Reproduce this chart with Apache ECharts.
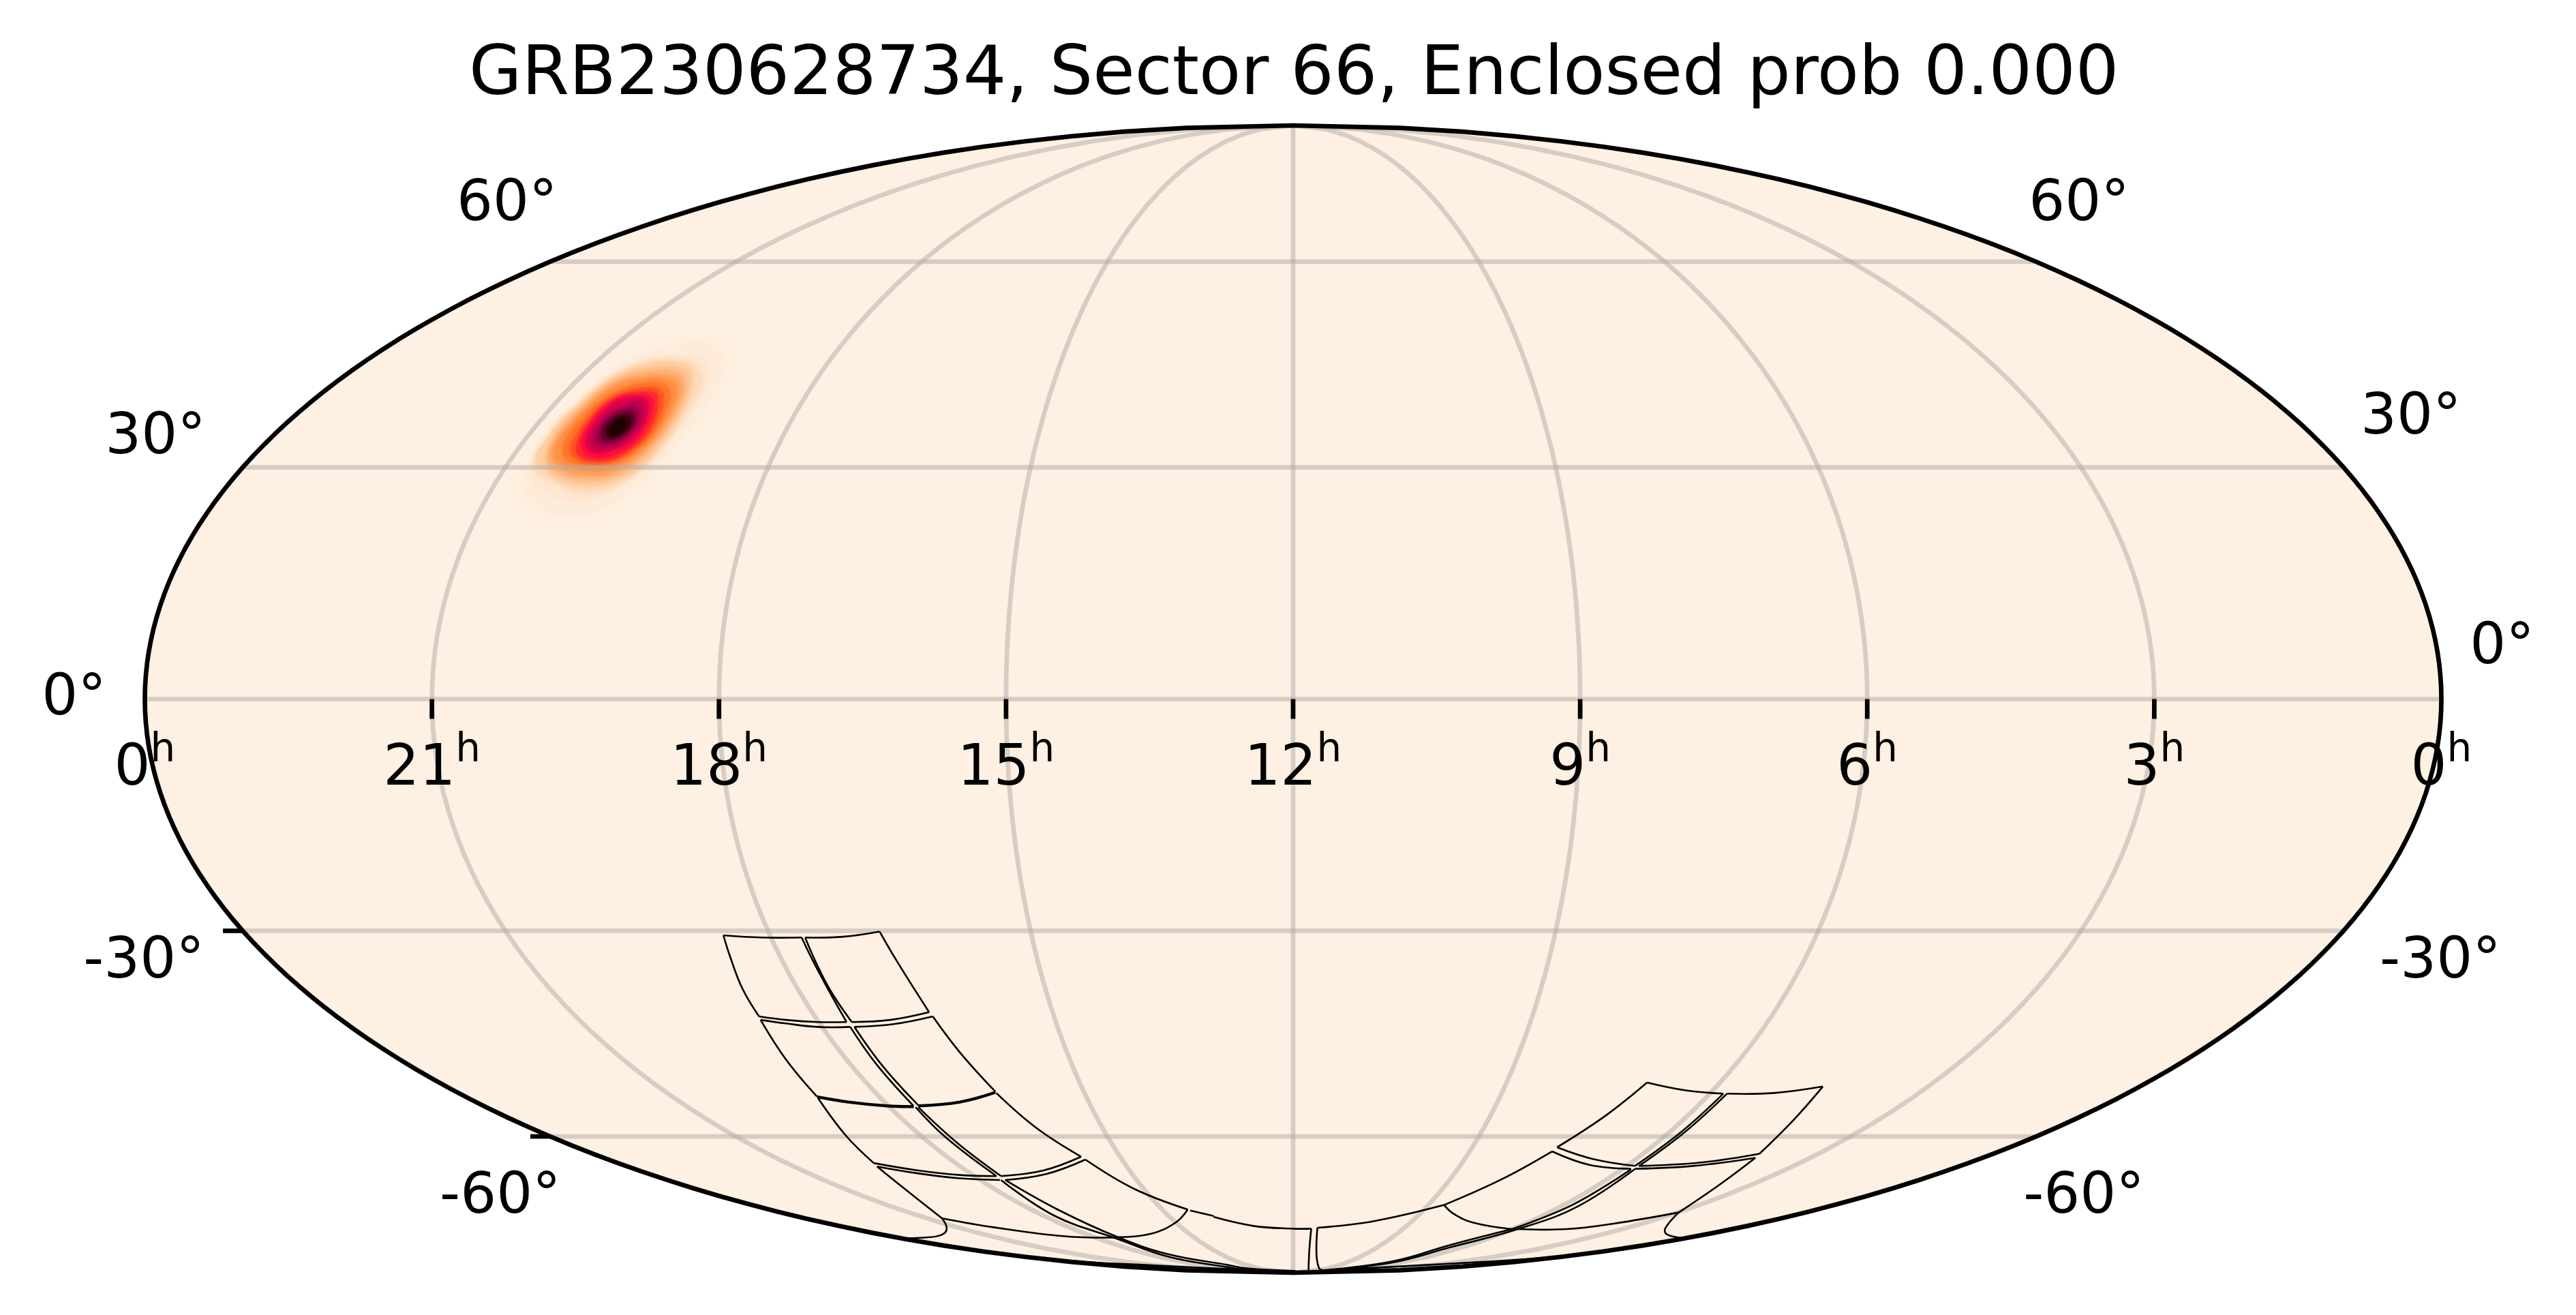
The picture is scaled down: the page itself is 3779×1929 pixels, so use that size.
<!DOCTYPE html>
<html><head><meta charset="utf-8"><style>html,body{margin:0;background:#fff}#c{width:3779px;height:1929px}</style>
<script src="https://cdn.jsdelivr.net/npm/echarts@6/dist/echarts.min.js"></script></head><body><div id="c"></div>
<script>
// Title and tick values
const titleText='GRB230628734, Sector 66, Enclosed prob 0.000';
const raGridHours=[21,18,15,12,9,6,3];
const raLabelHours=[0,3,6,9,12,15,18,21,24];
const decGrid=[60,30,0,-30,-60];
const decTickMarks=[-30,-60];
// Detector footprint outlines: each edge is a flat list of RA deg, Dec deg pairs
const chipEdges=[
[278.0,-30.6,271.6,-30.9,264.7,-30.9],[264.7,-30.9,264.6,-33.9,264.5,-37.9,264.7,-42.6],[264.7,-42.6,270.2,-42.6,275.9,-42.3,280.5,-41.8],[280.5,-41.8,280.0,-37.9,278.8,-33.6,278.0,-30.6],
[264.1,-30.9,257.5,-30.8,250.9,-30.1],[250.9,-30.1,249.8,-34.2,248.1,-41.2],[248.1,-41.2,256.2,-42.3,263.7,-42.6],[263.7,-42.6,264.2,-38.3,264.2,-34.2,264.1,-30.9],
[280.7,-42.3,276.4,-42.8,270.9,-43.3,264.6,-43.3],[264.6,-43.3,264.7,-48.8,264.4,-55.1],[264.4,-55.1,270.1,-55.0,277.8,-54.4,283.5,-53.6],[283.5,-53.6,282.2,-48.1,280.7,-42.3],
[263.8,-43.3,256.0,-42.9,247.8,-41.8],[247.8,-41.8,246.3,-47.0,244.0,-52.9],[244.0,-52.9,253.3,-54.4,263.2,-55.0],[263.2,-55.0,263.7,-49.1,263.8,-43.3],
[283.6,-53.8,278.1,-54.6,270.4,-55.2,264.6,-55.3],[264.2,-55.3,264.4,-60.2,263.7,-66.8],[263.7,-66.8,273.6,-66.6,283.1,-65.8,291.8,-64.5],[291.8,-64.5,288.0,-59.8,283.6,-53.8],
[263.5,-55.2,253.5,-54.6,244.2,-53.1],[244.0,-53.1,240.6,-58.6,235.1,-63.4],[235.1,-63.4,248.7,-65.8,262.4,-66.8],[262.4,-66.8,263.1,-61.0,263.6,-55.3],
[292.5,-65.1,284.6,-66.3,275.1,-67.2,264.3,-67.5],[264.0,-67.5,266.1,-74.3,261.4,-79.3,263.3,-84.0,253.4,-87.2,249.2,-88.2,175.7,-88.9],[260.6,-79.1,282.0,-78.8,300.3,-76.8,309.5,-74.9],[309.5,-74.9,296.9,-69.1,292.5,-65.1],
[309.5,-74.9,321.3,-77.1,334.6,-78.5,347.8,-79.1,359.5,-79.2],[359.5,-79.2,360.0,-82.3,354.1,-85.0,318.5,-86.6,270.2,-87.9,175.3,-89.0],
[262.8,-67.5,248.8,-66.4,234.6,-63.9],[234.6,-63.9,227.9,-69.1,216.2,-73.1],[216.2,-73.1,225.1,-75.8,241.3,-78.2,259.3,-79.0],[262.8,-67.5,260.9,-73.1,259.3,-79.0,257.7,-83.3,242.5,-86.4,238.6,-87.7,176.0,-88.8],
[215.6,-73.3,208.7,-74.4],[209.0,-74.6,195.7,-76.5,179.9,-77.1,172.6,-77.1],[172.6,-77.1,170.9,-82.1,154.0,-88.5],
[105.4,-51.5,95.8,-52.7,87.1,-53.2],[87.1,-53.2,87.3,-59.2,87.8,-65.0],[87.8,-65.0,101.3,-63.8,113.7,-61.8],[113.7,-61.8,108.8,-56.7,105.4,-51.5],
[86.3,-53.2,76.4,-53.1,67.4,-52.1],[67.4,-52.1,64.5,-57.4,60.1,-62.9],[60.1,-62.9,71.5,-64.4,86.7,-65.0],[86.7,-65.0,86.4,-59.2,86.3,-53.2],
[114.0,-62.5,100.5,-64.8,87.7,-65.5],[87.5,-65.6,87.2,-72.1,90.3,-77.2],[90.3,-77.2,110.9,-75.8,123.3,-73.9,129.8,-72.2],[129.8,-72.2,120.3,-67.4,114.0,-62.5],
[86.6,-65.5,72.1,-65.0,59.3,-63.6],[59.3,-63.6,54.1,-68.6,44.5,-73.7],[44.5,-73.7,55.9,-76.0,68.1,-77.2,87.9,-77.2],[86.6,-65.5,84.4,-72.5,87.9,-77.2,96.5,-81.5,97.3,-85.6,123.9,-88.3],
[44.5,-73.7,28.9,-77.0,17.8,-78.3,1.5,-79.2],[1.5,-79.2,0.7,-82.1,4.3,-84.0,40.0,-86.0,117.7,-88.3],
[129.8,-72.2,149.6,-75.5,170.2,-76.9],[170.2,-76.9,165.4,-83.3,148.0,-87.6,129.1,-88.5],[129.1,-88.5,101.4,-85.2,99.9,-80.9,90.3,-77.2]
];
// Probability contours, outer to inner: flat RA deg, Dec deg pairs
const probContours=[
[305.1,48.4,297.3,48.7,289.6,46.1,286.3,42.4,285.9,38.6,285.9,34.8,287.5,31.1,289.2,27.8,292.5,25.1,297.4,22.4,303.4,23.0,309.2,25.1,312.8,28.1,313.4,31.1,313.5,34.2,313.1,37.3,312.7,40.5,311.3,43.1,309.2,45.4,307.7,47.4],
[303.1,47.1,297.2,47.4,290.6,45.1,287.8,41.8,287.1,37.7,287.6,33.9,288.8,30.2,291.1,27.2,294.8,24.5,299.9,23.6,305.0,24.5,309.6,26.9,311.0,30.2,311.3,33.6,311.1,37.0,310.6,40.2,309.6,43.1,307.4,45.4],
[299.5,45.4,294.6,45.1,290.6,42.4,289.1,38.9,289.0,35.1,290.1,31.4,292.4,28.7,295.9,26.3,300.4,25.7,305.2,26.6,309.4,28.7,310.8,31.7,310.9,34.8,310.5,38.0,309.7,40.8,308.3,43.4,304.8,45.1],
[297.9,44.7,294.1,43.7,290.7,41.2,290.2,39.2,289.7,35.8,290.3,32.5,291.9,29.6,295.2,27.3,299.5,26.6,304.3,27.8,310.0,29.9,311.0,32.7,311.1,35.6,310.4,38.3,309.7,41.0,308.0,43.3,304.5,44.7],
[296.4,44.1,293.3,42.1,291.4,39.6,290.5,36.4,290.5,33.6,291.4,30.5,293.8,28.4,297.8,27.5,302.6,27.8,306.6,29.0,310.6,31.1,311.3,33.6,311.3,36.4,310.4,38.6,309.6,41.2,307.8,43.1,304.3,44.4,300.4,44.7],
[296.9,43.6,293.6,41.8,291.8,39.1,291.0,36.1,291.2,33.4,292.3,30.7,294.8,28.7,298.7,28.0,303.5,28.4,307.5,29.9,309.4,32.2,310.5,36.1,309.8,38.4,309.0,41.0,307.0,42.8,303.3,43.8],
[297.4,43.1,294.1,41.5,292.1,38.6,291.6,35.8,291.9,33.3,293.2,30.8,295.7,29.0,299.7,28.5,304.4,29.1,308.4,30.8,309.8,33.3,309.8,35.8,309.2,38.3,308.4,40.8,306.1,42.4,302.4,43.3],
[297.5,42.6,294.4,41.2,292.6,38.4,292.0,35.8,292.4,33.3,293.7,31.0,296.4,29.3,300.4,29.0,305.0,29.7,308.3,31.4,309.4,33.7,309.3,36.1,308.7,38.6,307.6,40.9,305.1,42.3],
[297.6,42.1,294.8,40.8,293.1,38.3,292.6,35.8,292.9,33.3,294.3,31.3,297.1,29.7,301.2,29.6,305.7,30.4,308.3,32.0,309.1,34.2,308.8,36.4,308.3,38.9,306.9,41.0,304.0,42.1],
[298.1,41.5,295.4,40.2,293.7,37.7,293.2,35.1,293.8,33.0,295.5,31.3,298.3,30.4,302.2,30.4,305.5,31.1,307.4,32.7,308.1,34.8,307.8,37.0,306.9,39.2,305.0,40.8,302.1,41.6],
[298.2,40.8,296.0,39.6,294.3,37.0,293.9,34.5,295.0,32.7,296.9,31.1,300.1,30.7,303.6,31.1,306.1,32.7,306.6,34.5,306.6,37.0,305.8,38.9,303.6,40.4,301.0,41.0],
[298.2,40.2,296.4,38.9,294.8,36.7,294.4,34.2,295.5,32.4,297.7,31.1,301.1,31.0,303.9,31.7,305.4,33.3,305.8,35.5,306.0,37.7,305.0,39.4,302.6,40.2],
[298.3,39.6,296.2,37.7,295.4,35.8,295.3,33.6,296.6,32.2,298.7,31.4,301.5,31.4,303.7,32.4,305.3,34.2,305.7,36.5,305.2,38.4,304.0,39.6,301.5,39.9],
[298.6,39.1,296.7,37.3,295.9,35.5,296.2,33.7,297.7,32.7,300.0,32.0,302.6,32.4,304.4,33.9,304.9,35.8,304.8,37.7,303.8,39.1,301.4,39.6],
[298.8,38.6,297.1,36.7,296.8,34.8,297.6,33.4,299.3,32.7,301.7,32.7,303.4,33.9,304.0,35.6,303.7,37.3,302.3,38.4,300.8,38.9],
[299.2,38.0,297.6,36.4,297.6,34.8,298.4,33.7,300.1,33.1,302.0,33.4,303.1,34.7,303.4,36.2,302.6,37.5,301.2,38.1],
[299.1,37.3,297.9,36.1,298.2,34.8,299.2,33.9,300.8,33.6,302.2,34.4,302.9,35.9,302.1,37.0,300.7,37.5],
[299.4,36.9,298.2,35.6,298.7,34.5,300.1,34.1,301.5,34.5,302.0,35.9,301.3,36.9],
[300.0,36.5,299.0,35.5,299.5,34.5,300.7,34.5,301.5,35.6,301.1,36.4]
];
const levelColors=['#feefe0','#feecda','#fee6d0','#fedcbc','#fed0a6','#fec391','#feb47c','#fea462','#fe9448','#fe7a2c','#ff5a22','#ff3028','#ff1040','#e0004c','#c00050','#990048','#6e0030','#40000f','#200000'];
// Label layout: RA of the border point, Dec, pixel offset from it
const decLabelAnchors=[[360,60,-63,-83],[360,30,-128,-42],[360,0,-104,1],[360,-30,-145,47],[360,-60,-73,90],[0,60,63,-83],[0,30,99,-71],[0,0,89,-74],[0,-30,142,47],[0,-60,70,90]];

const D=Math.PI/180, S2=Math.SQRT2;
function theta(dec){const p=dec*D; if(Math.abs(dec)>=89.999) return Math.sign(dec)*Math.PI/2; let t=p; for(let i=0;i<60;i++){t-=(2*t+Math.sin(2*t)-Math.PI*Math.sin(p))/(2+2*Math.cos(2*t));} return t;}
function proj(ra,dec){const t=theta(dec);return [-(2*S2/Math.PI)*(ra-180)*D*Math.cos(t),S2*Math.sin(t)];}
const pts=(a,api)=>{const o=[];for(let i=0;i<a.length;i+=2)o.push(api.coord(proj(a[i],a[i+1])));return o;};
const range=(a,b,n)=>Array.from({length:n+1},(_,i)=>a+(b-a)*i/n);
const grat=[...raGridHours.map(h=>range(-90,90,90).flatMap(d=>[h*15,d])),...decGrid.map(d=>range(0,360,60).flatMap(r=>[r,d]))];
const outline=[...range(-90,90,120).flatMap(d=>[0,d]),...range(90,-90,120).flatMap(d=>[360,d])];
const rich={a:{fontSize:83.3,fontFamily:'DejaVu Sans',color:'#000',lineHeight:114},b:{fontSize:58,fontFamily:'DejaVu Sans',color:'#000',verticalAlign:'top',lineHeight:100}};
const opt={animation:false,backgroundColor:'#fff',
title:{text:titleText,left:'50.1%',textAlign:'center',top:57,textStyle:{fontFamily:'DejaVu Sans',fontSize:100,fontWeight:'normal',color:'#000'}},
grid:{left:212.5,top:184,width:3369,height:1683},
xAxis:{type:'value',min:-2*S2,max:2*S2,show:false},yAxis:{type:'value',min:-S2,max:S2,show:false},
series:[
{type:'custom',coordinateSystem:'cartesian2d',clip:false,z:1,data:[0],renderItem:(p,api)=>({type:'polygon',shape:{points:pts(outline,api)},style:{fill:'#fef0e2',stroke:null}})},
{type:'custom',clip:false,z:2,data:probContours.map((_,i)=>i),renderItem:(p,api)=>{const i=api.value(0);return {type:'polygon',shape:{points:pts(probContours[i],api),smooth:0.5},style:{fill:levelColors[i],shadowBlur:8,shadowColor:levelColors[i]}}}},
{type:'custom',clip:false,z:3,data:grat.map((_,i)=>i),renderItem:(p,api)=>({type:'polyline',shape:{points:pts(grat[api.value(0)],api)},style:{fill:null,stroke:'rgba(176,170,165,0.5)',lineWidth:6.7}})},
{type:'custom',clip:false,z:4,data:chipEdges.map((_,i)=>i),renderItem:(p,api)=>({type:'polyline',shape:{points:pts(chipEdges[api.value(0)],api),smooth:0.4},style:{fill:null,stroke:'#000',lineWidth:2.6}})},
{type:'custom',clip:false,z:5,data:[0],renderItem:(p,api)=>({type:'polygon',shape:{points:pts(outline,api)},style:{fill:null,stroke:'#000',lineWidth:6.7}})},
{type:'custom',clip:false,z:6,data:raGridHours,renderItem:(p,api)=>{const c=api.coord(proj(api.value(0)*15,0));return {type:'line',shape:{x1:c[0],y1:c[1],x2:c[0],y2:c[1]+29},style:{stroke:'#000',lineWidth:6.7}}}},
{type:'custom',clip:false,z:6,data:decTickMarks,renderItem:(p,api)=>{const c=api.coord(proj(360,api.value(0)));return {type:'line',shape:{x1:c[0],y1:c[1],x2:c[0]-29,y2:c[1]},style:{stroke:'#000',lineWidth:6.7}}}},
{type:'custom',clip:false,z:7,data:raLabelHours,renderItem:(p,api)=>{const h=api.value(0);const c=api.coord(proj(h*15,0));const t=h==24?'0':String(h);return {type:'text',x:c[0],y:c[1]+104,style:{text:`{a|${t}}{b|h}`,rich,align:'center',verticalAlign:'middle'}}}},
{type:'custom',clip:false,z:7,data:decLabelAnchors,renderItem:(p,api)=>{const d=api.value(1);const c=api.coord(proj(api.value(0),d));return {type:'text',x:c[0]+api.value(2),y:c[1]+api.value(3),style:{text:d+'°',fontSize:83.3,fontFamily:'DejaVu Sans',fill:'#000',align:'center',verticalAlign:'middle'}}}}
]};
echarts.init(document.getElementById('c'),null,{renderer:'canvas'}).setOption(opt);
</script></body></html>
